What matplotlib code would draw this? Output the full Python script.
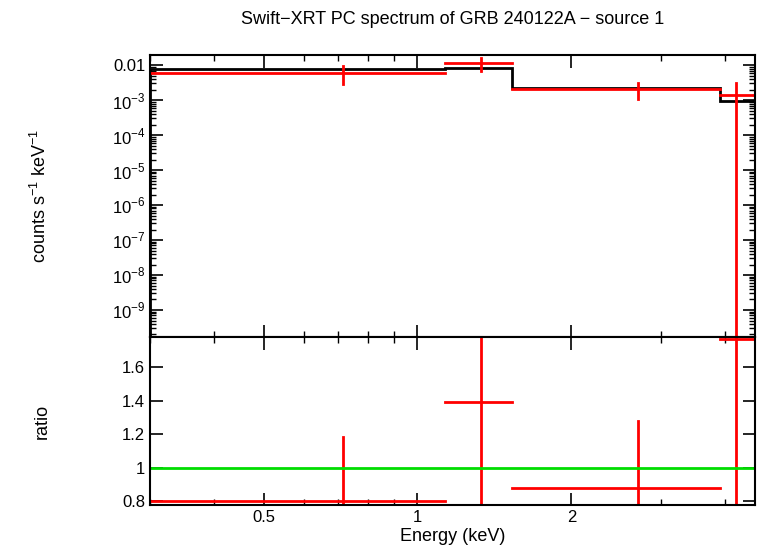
import numpy as np
import matplotlib
matplotlib.use('Agg')
import matplotlib.pyplot as plt
from matplotlib.ticker import FixedLocator, NullFormatter, LogLocator

plt.rcParams['font.family'] = 'Liberation Sans'
plt.rcParams['mathtext.fontset'] = 'custom'
plt.rcParams['mathtext.rm'] = 'Liberation Sans'

# bins (keV)
bin_lo = [0.3, 1.13, 1.53, 3.9]
bin_hi = [1.13, 1.53, 3.9, 4.57]
bin_ctr = [0.714, 1.33, 2.7, 4.2]
# counts s^-1 keV^-1
rate = [5.9e-3, 0.0114, 2.05e-3, 1.4e-3]
rate_lo = [2.9e-3, 7.0e-3, 1.1e-3, 1e-12]
rate_hi = [9.3e-3, 0.0156, 3.0e-3, 3.0e-3]
model = [7.7e-3, 8.2e-3, 2.3e-3, 9.4e-4]
# ratio
ratio = [0.80, 1.39, 0.88, 1.77]
ratio_lo = [0.5, 0.78, 0.5, 0.5]
ratio_hi = [1.18, 2.0, 1.28, 2.0]

fig = plt.figure(figsize=(7.58, 5.56), dpi=100)
ax1 = fig.add_axes([0.198, 0.394, 0.798, 0.507])
ax2 = fig.add_axes([0.198, 0.0917, 0.798, 0.302], sharex=ax1)

xlim = (0.3, 4.57)
for ax in (ax1, ax2):
    ax.set_xscale('log')
    ax.set_xlim(*xlim)
    ax.tick_params(which='both', direction='in', top=True, right=True, labelsize=12)
    ax.tick_params(which='major', length=9, width=1.2)
    ax.tick_params(which='minor', length=4, width=1.0)
    for s in ax.spines.values():
        s.set_linewidth(1.5)

# model step
edges = bin_lo + [bin_hi[-1]]
ax1.stairs(model, edges, color='black', lw=2)
for i in range(4):
    ax1.plot([bin_lo[i], bin_hi[i]], [rate[i], rate[i]], color='red', lw=2)
    ax1.plot([bin_ctr[i], bin_ctr[i]], [rate_lo[i], rate_hi[i]], color='red', lw=2)
    ax2.plot([bin_lo[i], bin_hi[i]], [ratio[i], ratio[i]], color='red', lw=2)
    ax2.plot([bin_ctr[i], bin_ctr[i]], [ratio_lo[i], ratio_hi[i]], color='red', lw=2)

ax1.set_yscale('log')
ax1.set_ylim(10**-9.77, 10**-1.71)
yt = [1e-9, 1e-8, 1e-7, 1e-6, 1e-5, 1e-4, 1e-3, 1e-2]
ax1.yaxis.set_major_locator(FixedLocator(yt))
ax1.set_yticklabels([r'$10^{%d}$' % e for e in range(-9, -2)] + ['0.01'])
ax1.yaxis.set_minor_locator(LogLocator(base=10, subs=np.arange(2, 10)))
ax1.yaxis.set_minor_formatter(NullFormatter())
ax1.set_ylabel(r'counts s$^{-1}$ keV$^{-1}$', fontsize=13)
ax1.yaxis.set_label_coords(-0.165, 0.5)
ax1.tick_params(axis='x', labelbottom=False)

ax2.axhline(1.0, color='#00dd00', lw=2)
ax2.set_ylim(0.776, 1.78)
ax2.set_yticks([0.8, 1.0, 1.2, 1.4, 1.6])
ax2.set_yticklabels(['0.8', '1', '1.2', '1.4', '1.6'])
ax2.set_ylabel('ratio', fontsize=13)
ax2.yaxis.set_label_coords(-0.165, 0.5)
ax2.set_xticks([0.5, 1, 2])
ax2.set_xticklabels(['0.5', '1', '2'])
ax2.xaxis.set_minor_formatter(NullFormatter())
ax2.set_xlabel('Energy (keV)', fontsize=13, labelpad=2)

fig.suptitle('Swift\u2212XRT PC spectrum of GRB 240122A \u2212 source 1', x=0.597, y=0.98, fontsize=13)
fig.savefig('out.png', dpi=100)
